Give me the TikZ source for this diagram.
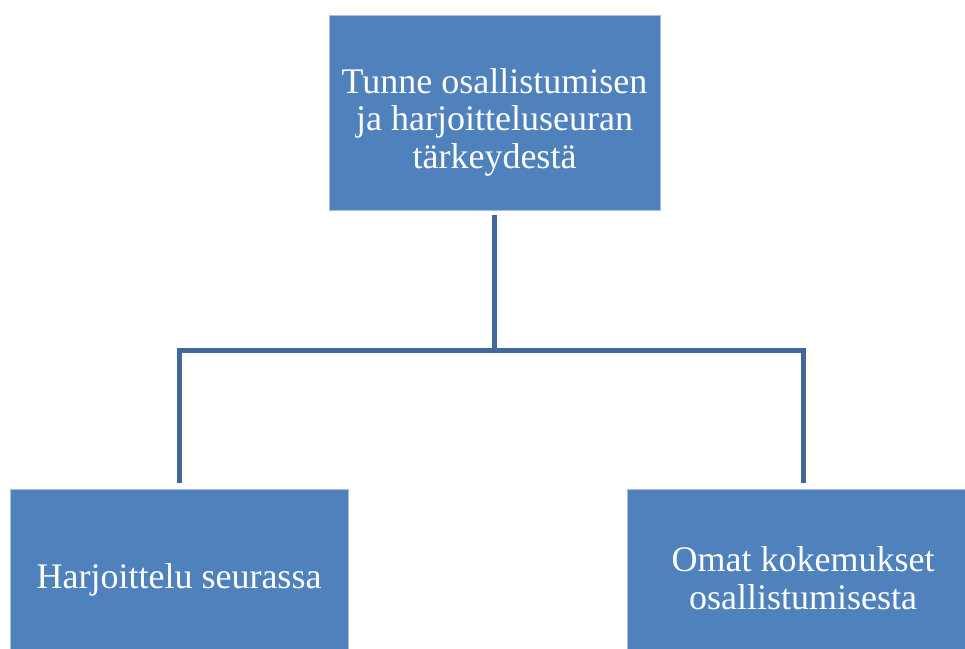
\documentclass[tikz,border=0pt]{standalone}
\usepackage{fontspec}
\setmainfont{Liberation Serif}
\definecolor{boxblue}{HTML}{4F81BD}
\definecolor{boxedge}{HTML}{A9C0DD}
\definecolor{linkblue}{HTML}{41679B}
\begin{document}
\begin{tikzpicture}[x=1pt,y=1pt,
  box/.style={fill=boxblue,draw=boxedge,line width=0.6pt,inner sep=0pt},
  label/.style={text=white,align=center,inner sep=0pt},
  conn/.style={draw=linkblue,line width=5pt,line join=miter}]
\useasboundingbox (0,0) rectangle (965,-648);
\clip (0,0) rectangle (965,-648);
% boxes
\node[box,minimum width=331pt,minimum height=195pt] (top) at (494.5,-112.5) {};
\node[box,minimum width=338pt,minimum height=178pt] (left) at (179,-578) {};
\node[box,minimum width=352pt,minimum height=178pt] (right) at (803,-578) {};
% texts
\node[label,font=\fontsize{36}{37.5}\selectfont] (toptext) at (494.5,-122) {Tunne osallistumisen\\ja harjoitteluseuran\\tärkeydestä};
\node[label,font=\fontsize{36}{38}\selectfont] (lefttext) at (179,-580) {Harjoittelu seurassa};
\node[label,font=\fontsize{36}{38}\selectfont] (righttext) at (803,-578.5) {Omat kokemukset\\osallistumisesta};
% connectors
\coordinate (junction) at ([yshift=-140pt]top.south);
\draw[conn] ([yshift=-5pt]top.south) -- (junction);
\draw[conn] ([yshift=6pt]left.north) |- (junction) -| ([yshift=6pt]right.north);
\end{tikzpicture}
\end{document}
